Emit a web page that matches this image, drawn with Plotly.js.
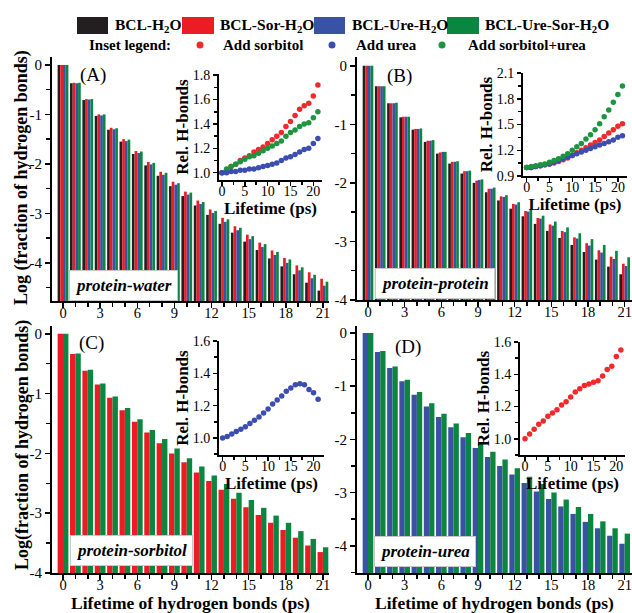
<!DOCTYPE html>
<html><head><meta charset="utf-8">
<script src="https://cdn.plot.ly/plotly-3.0.1.min.js"></script>
<style>html,body{margin:0;padding:0;background:#fff;overflow:hidden}</style>
</head><body><div id="chart" style="width:632px;height:613px"></div>
<script>
// ---------------- data ----------------
const lifetime = [0,1,2,3,4,5,6,7,8,9,10,11,12,13,14,15,16,17,18,19,20,21];

// (A) protein-water : log(fraction of hydrogen bonds)
const pwBCL    = [0,-0.37,-0.71,-1.03,-1.31,-1.55,-1.80,-2.03,-2.24,-2.45,-2.65,-2.84,-3.03,-3.21,-3.39,-3.57,-3.74,-3.91,-4.07,-4.23,-4.40,-4.56];
const pwSor    = [0,-0.36,-0.69,-1.00,-1.27,-1.50,-1.74,-1.96,-2.16,-2.36,-2.56,-2.74,-2.92,-3.09,-3.26,-3.43,-3.59,-3.75,-3.90,-4.05,-4.19,-4.32];
const pwUre    = [0,-0.37,-0.70,-1.02,-1.30,-1.54,-1.78,-2.01,-2.22,-2.42,-2.62,-2.81,-2.99,-3.17,-3.34,-3.52,-3.68,-3.84,-4.00,-4.15,-4.31,-4.46];
const pwUreSor = [0,-0.36,-0.69,-1.00,-1.28,-1.51,-1.75,-1.98,-2.18,-2.39,-2.58,-2.77,-2.95,-3.12,-3.29,-3.46,-3.62,-3.78,-3.93,-4.09,-4.24,-4.38];

// (B) protein-protein
const ppBCL    = [0,-0.35,-0.64,-0.88,-1.09,-1.30,-1.50,-1.67,-1.84,-2.00,-2.16,-2.30,-2.44,-2.57,-2.70,-2.82,-2.94,-3.06,-3.18,-3.31,-3.43,-3.56];
const ppSor    = [0,-0.35,-0.64,-0.87,-1.08,-1.28,-1.48,-1.64,-1.80,-1.96,-2.10,-2.23,-2.36,-2.48,-2.60,-2.71,-2.82,-2.93,-3.03,-3.15,-3.26,-3.38];
const ppUre    = [0,-0.35,-0.64,-0.87,-1.08,-1.28,-1.47,-1.64,-1.80,-1.95,-2.10,-2.24,-2.37,-2.49,-2.61,-2.73,-2.84,-2.95,-3.07,-3.19,-3.30,-3.42];
const ppUreSor = [0,-0.35,-0.63,-0.87,-1.07,-1.27,-1.47,-1.63,-1.79,-1.94,-2.08,-2.21,-2.33,-2.45,-2.56,-2.66,-2.76,-2.86,-2.96,-3.06,-3.16,-3.27];

// (C) protein-sorbitol
const psSor    = [0,-0.34,-0.62,-0.85,-1.07,-1.28,-1.47,-1.65,-1.83,-2.00,-2.15,-2.32,-2.46,-2.61,-2.76,-2.90,-3.03,-3.16,-3.28,-3.41,-3.54,-3.65];
const psUreSor = [0,-0.33,-0.60,-0.83,-1.05,-1.24,-1.43,-1.61,-1.76,-1.92,-2.08,-2.22,-2.37,-2.51,-2.66,-2.78,-2.91,-3.04,-3.16,-3.30,-3.43,-3.57];

// (D) protein-urea
const puUre    = [0,-0.36,-0.66,-0.91,-1.16,-1.38,-1.58,-1.77,-1.96,-2.16,-2.33,-2.50,-2.66,-2.82,-2.98,-3.12,-3.26,-3.40,-3.55,-3.67,-3.81,-3.96];
const puUreSor = [0,-0.34,-0.63,-0.88,-1.11,-1.32,-1.52,-1.70,-1.88,-2.06,-2.23,-2.38,-2.54,-2.70,-2.84,-3.00,-3.13,-3.27,-3.40,-3.54,-3.67,-3.77];

// insets : relative H-bonds vs lifetime (ps)
const insA_sor    = [1.0,1.02,1.05,1.07,1.10,1.12,1.14,1.17,1.19,1.21,1.24,1.27,1.30,1.33,1.38,1.42,1.47,1.52,1.55,1.57,1.63,1.72];
const insA_ure    = [1.0,1.0,1.01,1.01,1.02,1.02,1.03,1.03,1.04,1.05,1.06,1.07,1.08,1.10,1.12,1.13,1.15,1.17,1.19,1.20,1.24,1.28];
const insA_sorUre = [1.0,1.03,1.05,1.07,1.09,1.11,1.13,1.14,1.16,1.18,1.20,1.22,1.24,1.26,1.30,1.33,1.35,1.38,1.40,1.41,1.45,1.50];

const insB_sor    = [1.0,1.0,1.01,1.02,1.03,1.04,1.05,1.07,1.09,1.11,1.14,1.17,1.20,1.23,1.26,1.29,1.32,1.36,1.40,1.44,1.48,1.51];
const insB_ure    = [1.0,1.0,1.01,1.02,1.03,1.04,1.06,1.08,1.10,1.12,1.14,1.16,1.18,1.20,1.22,1.24,1.26,1.28,1.30,1.32,1.35,1.37];
const insB_sorUre = [1.0,1.01,1.02,1.03,1.04,1.06,1.08,1.10,1.13,1.16,1.20,1.24,1.28,1.33,1.38,1.44,1.51,1.59,1.67,1.76,1.85,1.95];

const insC_ure    = [1.0,1.01,1.025,1.04,1.055,1.07,1.09,1.11,1.13,1.155,1.18,1.21,1.235,1.26,1.29,1.31,1.33,1.335,1.33,1.30,1.28,1.24];
const insD_sor    = [1.0,1.03,1.06,1.09,1.11,1.14,1.16,1.18,1.21,1.23,1.26,1.29,1.31,1.33,1.34,1.35,1.36,1.39,1.43,1.45,1.51,1.55];

const xTickVals = [0,3,6,9,12,15,18,21];
const yTickVals = [0,-1,-2,-3,-4];
const yTickText = ['0','-1','-2','-3','-4'];
const barNames = ['BCL-H<sub>2</sub>O','BCL-Sor-H<sub>2</sub>O','BCL-Ure-H<sub>2</sub>O','BCL-Ure-Sor-H<sub>2</sub>O'];
const insetNames = ['Add sorbitol','Add urea','Add sorbitol+urea'];
const panelTags = ['(A)','(B)','(C)','(D)'];
const panelNames = ['protein-water','protein-protein','protein-sorbitol','protein-urea'];
const yTitles = ['Log (fraction of hydrogen bonds)','Log(fraction of hydrogen bonds)'];
const xTitle = 'Lifetime of hydrogen bonds (ps)';

// ---------------- styling ----------------
const W = 632, H = 613;
const FONT = 'Liberation Serif, Times New Roman, serif';
const C = {bcl:'#231f20', sor:'#ec1c24', ure:'#3a52a4', both:'#0a8641'};
const M = {sor:'#f02a2a', ure:'#3c4db0', both:'#1c9440'};
const fx = x => x / W;
const fy = y => 1 - y / H;
const ref = (p, n) => n === 1 ? p : p + n;
const axKey = (p, n) => n === 1 ? p + 'axis' : p + 'axis' + n;

const panels = [
  {n:1, x0:52,  x1:329, y0:57,  y1:301, xr:[-0.89,21.49], yr:[-4.77,0.16], right:true,
   series:[[pwBCL,C.bcl],[pwSor,C.sor],[pwUre,C.ure],[pwUreSor,C.both]]},
  {n:2, x0:357, x1:632, y0:57,  y1:300, xr:[-0.9,21.6],   yr:[-4.0,0.15],  right:false,
   series:[[ppBCL,C.bcl],[ppSor,C.sor],[ppUre,C.ure],[ppUreSor,C.both]]},
  {n:3, x0:52,  x1:329, y0:326, y1:573, xr:[-0.89,21.49], yr:[-4.0,0.13],  right:true,
   series:[[psSor,C.sor],[psUreSor,C.both]]},
  {n:4, x0:357, x1:632, y0:326, y1:573, xr:[-0.9,21.6],   yr:[-4.51,0.13], right:false,
   series:[[puUre,C.ure],[puUreSor,C.both]]}
];
const insets = [
  {n:9,  x0:219, x1:322, y0:74,  y1:180, xr:[-0.65,21.9], yr:[0.94,1.81], t0:1.0, dt:0.2, fmt:'.1f',
   series:[[insA_sor,M.sor],[insA_sorUre,M.both],[insA_ure,M.ure]]},
  {n:10, x0:523, x1:627, y0:73,  y1:176, xr:[-0.8,22.0],  yr:[0.9,2.1],   t0:0.9, dt:0.3, fmt:'.1f',
   series:[[insB_sor,M.sor],[insB_ure,M.ure],[insB_sorUre,M.both]]},
  {n:11, x0:219, x1:324, y0:341, y1:455, xr:[-0.8,22.3],  yr:[0.895,1.6], t0:1.0, dt:0.2, fmt:'.1f',
   series:[[insC_ure,M.ure]]},
  {n:12, x0:520, x1:625, y0:342, y1:455, xr:[-1.1,21.9],  yr:[0.9,1.6],   t0:1.0, dt:0.2, fmt:'.1f',
   series:[[insD_sor,M.sor]]}
];

const traces = [];
const layout = {
  width: W, height: H, margin:{l:0,r:0,t:0,b:0},
  paper_bgcolor:'white', plot_bgcolor:'white', showlegend:false,
  barmode:'group', bargap:0.13, bargroupgap:0,
  font:{family:FONT, color:'black', size:15},
  annotations:[], shapes:[]
};

const baseAxis = {showgrid:false, zeroline:false, showline:true, linewidth:2, linecolor:'black',
                  tickcolor:'black', tickwidth:1.5, fixedrange:true};

panels.forEach((p, i) => {
  const xr = ref('x', p.n), yr = ref('y', p.n);
  const base = p.yr[0] - 1;
  p.series.forEach(([vals, col]) => {
    traces.push({type:'bar', x:lifetime, y:vals.map(v => v - base), base:base,
                 xaxis:xr, yaxis:yr, marker:{color:col, line:{width:0}}, hoverinfo:'skip'});
  });
  layout[axKey('x', p.n)] = Object.assign({}, baseAxis, {
    domain:[fx(p.x0), fx(p.x1)], range:p.xr, anchor:yr,
    ticks:'outside', ticklen:5, tickmode:'array', tickvals:xTickVals, ticktext:xTickVals.map(String),
    minor:{ticks:'outside', tickmode:'linear', tick0:0, dtick:1, ticklen:4, tickwidth:1.5, tickcolor:'black'},
    tickfont:{size:14.5}, ticklabelstandoff:-7, ticklabeloverflow:'allow'
  });
  layout[axKey('y', p.n)] = Object.assign({}, baseAxis, {
    domain:[fy(p.y1), fy(p.y0)], range:p.yr, anchor:xr,
    ticks:'outside', ticklen:5, tickmode:'array', tickvals:yTickVals, ticktext:yTickText,
    minor:{ticks:'outside', tickmode:'linear', tick0:0, dtick:0.5, ticklen:4, tickwidth:1.5, tickcolor:'black'},
    tickfont:{size:15}, ticklabeloverflow:'allow'
  });
  // top border with inward ticks
  layout[axKey('x', p.n + 4)] = Object.assign({}, baseAxis, {
    overlaying:xr, side:'top', anchor:yr, range:p.xr, showticklabels:false,
    ticks:'inside', ticklen:5, tickmode:'linear', tick0:0, dtick:3,
    minor:{ticks:'inside', tickmode:'linear', tick0:0, dtick:1, ticklen:4, tickwidth:1.5, tickcolor:'black'}
  });
  if (p.right) {
    layout[axKey('y', p.n + 4)] = Object.assign({}, baseAxis, {
      overlaying:yr, side:'right', anchor:xr, range:p.yr, showticklabels:false,
      ticks:'inside', ticklen:5, tickmode:'array', tickvals:yTickVals,
      minor:{ticks:'inside', tickmode:'linear', tick0:0, dtick:0.5, ticklen:4, tickwidth:1.5, tickcolor:'black'}
    });
  }
  layout.annotations.push({xref:'paper', yref:'paper', x:fx(p.x0 + [41,42,39,51][i]), y:fy(p.y0 + [18,19,17,21][i]),
    text:panelTags[i], showarrow:false, xanchor:'center', yanchor:'middle', font:{size:19}});
});

// axis titles
layout.xaxis3.title = {text:xTitle, font:{size:17.5, weight:'bold'}, standoff:9};
layout.xaxis4.title = {text:xTitle, font:{size:17.5, weight:'bold'}, standoff:9};
[[178, yTitles[0]], [445, yTitles[1]]].forEach(([cy, t]) => {
  layout.annotations.push({xref:'paper', yref:'paper', x:fx(22), y:fy(cy), xanchor:'center', yanchor:'middle',
    text:'<b>' + t + '</b>', textangle:-90, showarrow:false, font:{size:18}});
});

// labelled boxes
const boxes = [[123,285],[435,283],[131,550],[425,551]];
boxes.forEach(([bx,by], i) => {
  layout.annotations.push({xref:'paper', yref:'paper', x:fx(bx), y:fy(by), xanchor:'center', yanchor:'middle',
    text:'<b><i>' + panelNames[i] + '</i></b>', showarrow:false, font:{size:17},
    bgcolor:'white', bordercolor:'#c8c8c8', borderwidth:1, borderpad:5});
});

// insets
insets.forEach(q => {
  const xr = ref('x', q.n), yr = ref('y', q.n);
  q.series.forEach(([vals, col]) => {
    traces.push({type:'scatter', mode:'markers', x:lifetime, y:vals, xaxis:xr, yaxis:yr,
      marker:{color:col, size:5.5, line:{width:0}}, hoverinfo:'skip', cliponaxis:false});
  });
  layout[axKey('x', q.n)] = Object.assign({}, baseAxis, {
    domain:[fx(q.x0), fx(q.x1)], range:q.xr, anchor:yr,
    ticks:'outside', ticklen:4, tickmode:'linear', tick0:0, dtick:5,
    minor:{ticks:'outside', tickmode:'linear', tick0:0, dtick:2.5, ticklen:3, tickwidth:1.5, tickcolor:'black'},
    tickfont:{size:14}, ticklabelstandoff:-7,
    title:{text:'Lifetime (ps)', font:{size:17, weight:'bold'}, standoff:1}
  });
  layout[axKey('y', q.n)] = Object.assign({}, baseAxis, {
    domain:[fy(q.y1), fy(q.y0)], range:q.yr, anchor:xr,
    ticks:'outside', ticklen:4, tickmode:'linear', tick0:q.t0, dtick:q.dt, tickformat:q.fmt,
    minor:{ticks:'outside', tickmode:'linear', tick0:q.t0, dtick:q.dt/2, ticklen:3, tickwidth:1.5, tickcolor:'black'},
    tickfont:{size:14}, title:{text:'Rel. H-bonds', font:{size:17, weight:'bold'}, standoff:0}
  });
  layout[axKey('x', q.n + 4)] = Object.assign({}, baseAxis, {
    overlaying:xr, side:'top', anchor:yr, range:q.xr, showticklabels:false,
    ticks:'inside', ticklen:4, tickmode:'linear', tick0:0, dtick:5,
    minor:{ticks:'inside', tickmode:'linear', tick0:0, dtick:2.5, ticklen:3, tickwidth:1.5, tickcolor:'black'}
  });
  layout[axKey('y', q.n + 4)] = Object.assign({}, baseAxis, {
    overlaying:yr, side:'right', anchor:xr, range:q.yr, showticklabels:false,
    ticks:'inside', ticklen:4, tickmode:'linear', tick0:q.t0, dtick:q.dt,
    minor:{ticks:'inside', tickmode:'linear', tick0:q.t0, dtick:q.dt/2, ticklen:3, tickwidth:1.5, tickcolor:'black'}
  });
});

// legend (row 1: bar series, row 2: inset markers)
const legRects = [[77,108],[182,214],[314,345],[447,479]];
const legCols = [C.bcl, C.sor, C.ure, C.both];
const legTextX = [113,218,350,483];
legRects.forEach(([a,b], i) => {
  layout.shapes.push({type:'rect', xref:'paper', yref:'paper', x0:fx(a), x1:fx(b), y0:fy(34), y1:fy(17),
    fillcolor:legCols[i], line:{width:0}});
  layout.annotations.push({xref:'paper', yref:'paper', x:fx(legTextX[i]), y:fy(25.5), xanchor:'left', yanchor:'middle',
    text:'<b>' + barNames[i] + '</b>', showarrow:false, font:{size:15.5}});
});
layout.annotations.push({xref:'paper', yref:'paper', x:fx(87), y:fy(45), xanchor:'left', yanchor:'middle',
  text:'<b>Inset legend:</b>', showarrow:false, font:{size:15}});
const dotX = [200,332,442], dotCols = [M.sor, M.ure, M.both], dotTextX = [221,354,466];
dotX.forEach((dx, i) => {
  layout.shapes.push({type:'circle', xref:'paper', yref:'paper', x0:fx(dx-3.5), x1:fx(dx+3.5), y0:fy(45+3.5), y1:fy(45-3.5),
    fillcolor:dotCols[i], line:{width:0}});
  layout.annotations.push({xref:'paper', yref:'paper', x:fx(dotTextX[i]), y:fy(45), xanchor:'left', yanchor:'middle',
    text:'<b>' + insetNames[i] + '</b>', showarrow:false, font:{size:15}});
});

Plotly.newPlot('chart', traces, layout, {staticPlot:true, displayModeBar:false});
</script></body></html>
